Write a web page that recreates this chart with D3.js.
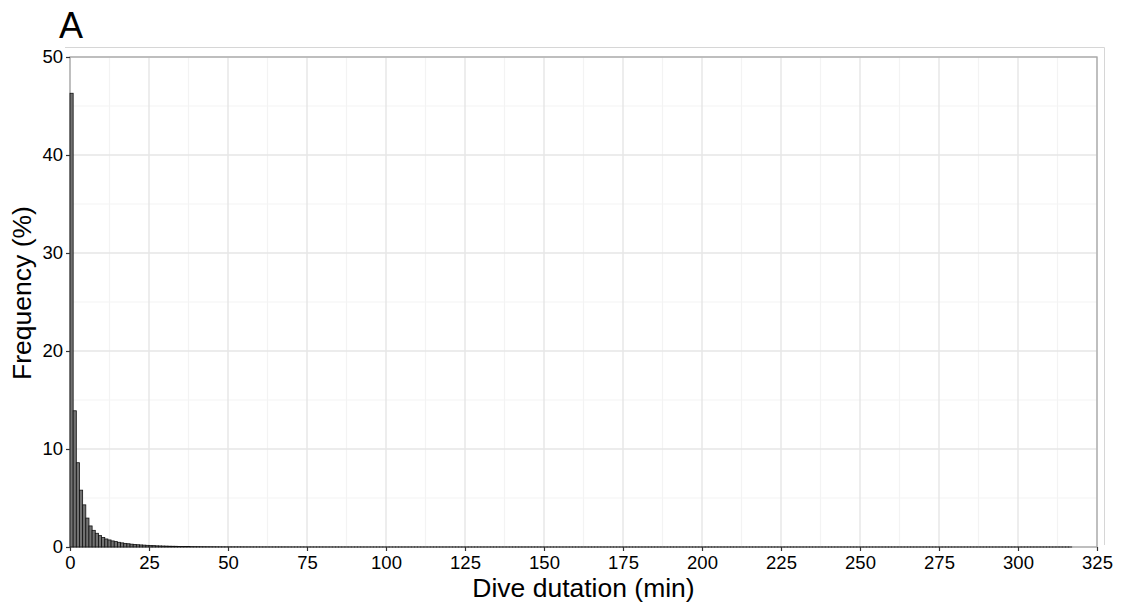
<!DOCTYPE html>
<html>
<head>
<meta charset="utf-8">
<script src="https://cdn.jsdelivr.net/npm/d3@7"></script>
<style>
  body { margin: 0; background: #fff; }
  svg { display: block; }
  text { font-family: "Liberation Sans", Arial, sans-serif; fill: #000; }
</style>
</head>
<body>
<svg id="chart" width="1121" height="608"></svg>
<script>
// Dive duration histogram: 1-minute bins starting at 0 min, values in % of dives
const binWidth = 1;
const headFreq = [
  46.3, 13.9, 8.6, 5.8, 4.3, 2.95, 2.15, 1.7, 1.4, 1.16,
  0.96, 0.82, 0.72, 0.62, 0.55, 0.48, 0.42, 0.37, 0.33, 0.29,
  0.26, 0.23, 0.21, 0.19, 0.17, 0.15, 0.14, 0.12, 0.11, 0.10,
  0.09, 0.08, 0.075, 0.07, 0.06, 0.055, 0.05, 0.045, 0.04, 0.037,
  0.034, 0.03, 0.028, 0.025, 0.023, 0.021, 0.019, 0.017, 0.016, 0.015
];
// long tail, 50 min onwards
const tailFreq = [
  0.014, 0.013, 0.012, 0.012, 0.011, 0.010, 0.010, 0.009, 0.009, 0.008,
  0.008, 0.008, 0.007, 0.007, 0.007, 0.006, 0.006, 0.006, 0.006, 0.005,
  0.005, 0.005, 0.005, 0.005, 0.004, 0.004, 0.004, 0.004, 0.004, 0.004,
  0.004, 0.003, 0.003, 0.003, 0.003, 0.003, 0.003, 0.003, 0.003, 0.003,
  0.003, 0.003, 0.002, 0.002, 0.002, 0.002, 0.002, 0.002, 0.002, 0.002,
  0.002, 0.002, 0.002, 0.002, 0.002, 0.002, 0.002, 0.002, 0.002, 0.002,
  0.002, 0.002, 0.002, 0.002, 0.002, 0.002, 0.002, 0.002, 0.002, 0.002,
  0.002, 0.002, 0.002, 0.002, 0.002, 0.002, 0.002, 0.002, 0.002, 0.002,
  0.002, 0.002, 0.002, 0.002, 0.002, 0.002, 0.002, 0.002, 0.002, 0.002,
  0.002, 0.002, 0.002, 0.002, 0.002, 0.002, 0.002, 0.002, 0.002, 0.002,
  0.001, 0.001, 0.001, 0.001, 0.001, 0.001, 0.001, 0.001, 0.001, 0.001,
  0.001, 0.001, 0.001, 0.001, 0.001, 0.001, 0.001, 0.001, 0.001, 0.001,
  0.001, 0.001, 0.001, 0.001, 0.001, 0.001, 0.001, 0.001, 0.001, 0.001,
  0.001, 0.001, 0.001, 0.001, 0.001, 0.001, 0.001, 0.001, 0.001, 0.001,
  0.001, 0.001, 0.001, 0.001, 0.001, 0.001, 0.001, 0.001, 0.001, 0.001,
  0.001, 0.001, 0.001, 0.001, 0.001, 0.001, 0.001, 0.001, 0.001, 0.001,
  0.001, 0.001, 0.001, 0.001, 0.001, 0.001, 0.001, 0.001, 0.001, 0.001,
  0.001, 0.001, 0.001, 0.001, 0.001, 0.001, 0.001, 0.001, 0.001, 0.001,
  0.001, 0.001, 0.001, 0.001, 0.001, 0.001, 0.001, 0.001, 0.001, 0.001,
  0.001, 0.001, 0.001, 0.001, 0.001, 0.001, 0.001, 0.001, 0.001, 0.001,
  0.001, 0.001, 0.001, 0.001, 0.001, 0.001, 0.001, 0.001, 0.001, 0.001,
  0.001, 0.001, 0.001, 0.001, 0.001, 0.001, 0.001, 0.001, 0.001, 0.001,
  0.001, 0.001, 0.001, 0.001, 0.001, 0.001, 0.001, 0.001, 0.001, 0.001,
  0.001, 0.001, 0.001, 0.001, 0.001, 0.001, 0.001, 0.001, 0.001, 0.001,
  0.001, 0.001, 0.001, 0.001, 0.001, 0.001, 0.001, 0.001, 0.001, 0.001,
  0.001, 0.001, 0.001, 0.001, 0.001, 0.001, 0.001, 0.001, 0.001, 0.001,
  0.001, 0.001, 0.001, 0.001, 0.001, 0.001, 0.001
];
const xTicks = [0, 25, 50, 75, 100, 125, 150, 175, 200, 225, 250, 275, 300, 325];
const yTicks = [0, 10, 20, 30, 40, 50];
const xMinor = [12.5, 37.5, 62.5, 87.5, 112.5, 137.5, 162.5, 187.5, 212.5, 237.5, 262.5, 287.5, 312.5];
const yMinor = [5, 15, 25, 35, 45];

const freq = headFreq.concat(tailFreq);
const bins = freq.map((v, i) => ({ x0: i * binWidth, x1: (i + 1) * binWidth, v }));

const svg = d3.select("#chart");
const pLeft = 70, pRight = 1097, pTop = 57, pBottom = 547;

const x = d3.scaleLinear().domain([0, 325]).range([pLeft, pRight]);
const y = d3.scaleLinear().domain([0, 50]).range([pBottom, pTop]);

// light outer frame
svg.append("path")
  .attr("d", `M65,47.5H1104.5V545`)
  .attr("fill", "none").attr("stroke", "#d6d6d6").attr("stroke-width", 1);

// grid
const grid = svg.append("g");
grid.selectAll(".gxm").data(xMinor).join("line")
  .attr("x1", d => x(d)).attr("x2", d => x(d)).attr("y1", pTop).attr("y2", pBottom)
  .attr("stroke", "#f3f3f3").attr("stroke-width", 1.2);
grid.selectAll(".gym").data(yMinor).join("line")
  .attr("y1", d => y(d)).attr("y2", d => y(d)).attr("x1", pLeft).attr("x2", pRight)
  .attr("stroke", "#f3f3f3").attr("stroke-width", 1.2);
grid.selectAll(".gx").data(xTicks).join("line")
  .attr("x1", d => x(d)).attr("x2", d => x(d)).attr("y1", pTop).attr("y2", pBottom)
  .attr("stroke", "#e6e6e6").attr("stroke-width", 1.4);
grid.selectAll(".gy").data(yTicks).join("line")
  .attr("y1", d => y(d)).attr("y2", d => y(d)).attr("x1", pLeft).attr("x2", pRight)
  .attr("stroke", "#e6e6e6").attr("stroke-width", 1.4);

// panel border
svg.append("rect")
  .attr("x", pLeft).attr("y", pTop).attr("width", pRight - pLeft).attr("height", pBottom - pTop)
  .attr("fill", "none").attr("stroke", "#a6a6a6").attr("stroke-width", 1.3);

// bars
svg.append("g").selectAll("rect").data(bins).join("rect")
  .attr("x", d => x(d.x0))
  .attr("width", d => x(d.x1) - x(d.x0))
  .attr("y", d => y(d.v))
  .attr("height", d => Math.max(0.01, y(0) - y(d.v)))
  .attr("fill", "#727272")
  .attr("stroke", "#111")
  .attr("stroke-width", 0.8);

// axes
const xAxis = svg.append("g")
  .attr("transform", `translate(0,${pBottom})`)
  .call(d3.axisBottom(x).tickValues(xTicks).tickSize(4).tickPadding(5));
const yAxis = svg.append("g")
  .attr("transform", `translate(${pLeft},0)`)
  .call(d3.axisLeft(y).tickValues(yTicks).tickSize(4).tickPadding(3));
[xAxis, yAxis].forEach(g => {
  g.select(".domain").remove();
  g.selectAll(".tick line").attr("stroke", "#333").attr("stroke-width", 1.2);
  g.selectAll(".tick text")
    .style("font-family", '"Liberation Sans", Arial, sans-serif')
    .style("font-size", "18.5px").attr("fill", "#000");
});

// titles
svg.append("text")
  .attr("x", (pLeft + pRight) / 2).attr("y", 597)
  .attr("text-anchor", "middle").style("font-size", "26.5px")
  .text("Dive dutation (min)");
svg.append("text")
  .attr("transform", `translate(31,293) rotate(-90)`)
  .attr("text-anchor", "middle").style("font-size", "26.5px")
  .text("Frequency (%)");
svg.append("text")
  .attr("x", 59).attr("y", 38)
  .style("font-size", "36px")
  .text("A");
</script>
</body>
</html>
